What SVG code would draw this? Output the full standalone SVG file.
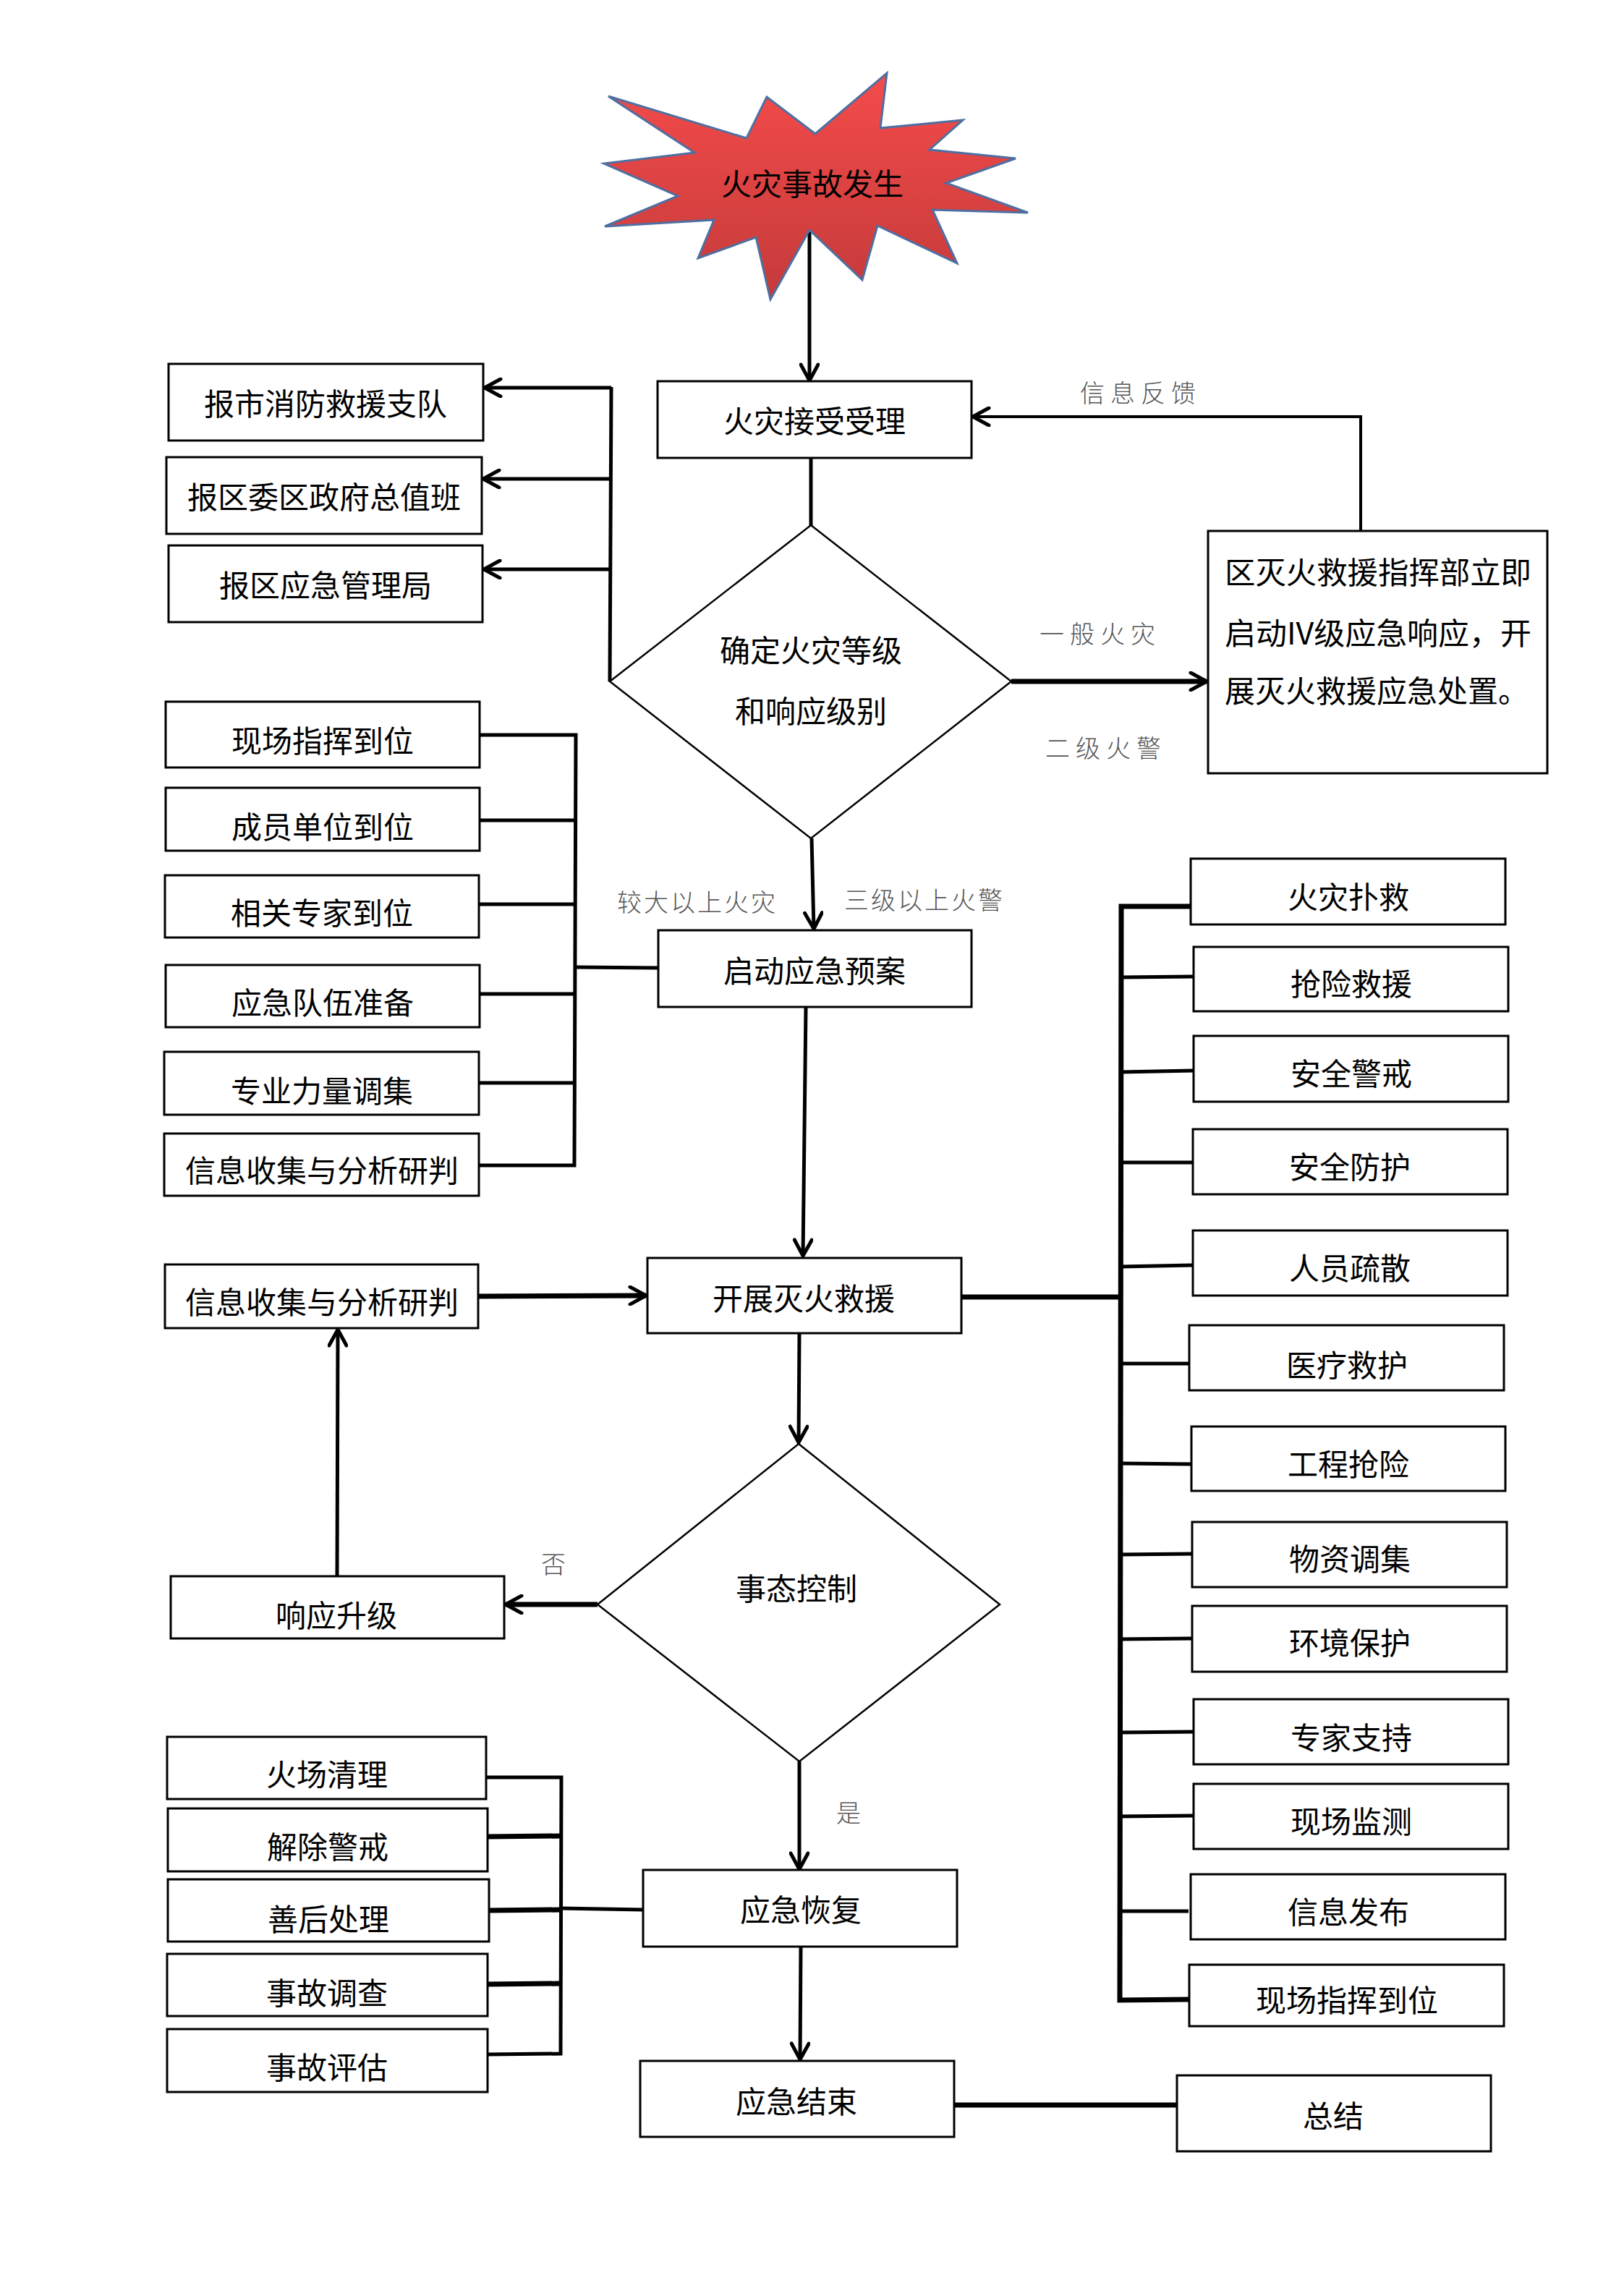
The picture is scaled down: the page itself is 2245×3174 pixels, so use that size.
<svg xmlns="http://www.w3.org/2000/svg" width="2245" height="3174" viewBox="0 0 2245 3174">
<defs>
<linearGradient id="red" x1="0" y1="0" x2="0" y2="1">
<stop offset="0" stop-color="#f54b4b"/>
<stop offset="1" stop-color="#c43a3a"/>
</linearGradient>
<marker id="arr" viewBox="0 0 28 28" refX="25" refY="14" markerWidth="28" markerHeight="28" markerUnits="userSpaceOnUse" orient="auto">
<path d="M3,2 L25,14 L3,26" fill="none" stroke="#000" stroke-width="5" stroke-linecap="round" stroke-linejoin="round"/>
</marker>
<style>
.box{fill:#fff;stroke:#000;stroke-width:3}
.dia{fill:#fff;stroke:#000;stroke-width:2.5}
.t{font-family:"Noto Sans CJK SC","Noto Sans",sans-serif;font-size:42px;fill:#000;text-anchor:middle;dominant-baseline:central}
.tl{font-family:"Noto Sans CJK SC","Noto Sans",sans-serif;font-size:42px;fill:#000;dominant-baseline:central}
.lbl{font-family:"Noto Sans CJK SC","Noto Sans",sans-serif;font-size:34px;font-weight:300;fill:#555;dominant-baseline:central}
.lc{text-anchor:middle}
.c{stroke:#000;stroke-width:5;fill:none}
.thin{stroke-width:4}
.thick{stroke-width:7}
.a{marker-end:url(#arr)}
</style>
</defs>
<rect width="2245" height="3174" fill="#fff"/>

<g id="connectors">
<line class="c a" x1="1119" y1="317" x2="1119" y2="526"/>
<line class="c" x1="1121" y1="633" x2="1121" y2="727"/>
<polyline class="c" points="843,942 845,535"/>
<line class="c a" x1="845" y1="536" x2="670" y2="536"/>
<line class="c a" x1="845" y1="662" x2="668" y2="662"/>
<line class="c a" x1="845" y1="787" x2="669" y2="787"/>
<line class="c thick a" x1="1398" y1="942" x2="1668" y2="942"/>
<polyline class="c thin a" points="1881,734 1881,576 1345,576"/>
<line class="c a" x1="1122" y1="1159" x2="1125" y2="1284"/>
<line class="c" x1="910" y1="1338" x2="794" y2="1337"/>
<polyline class="c" points="663,1016 796,1016 794,1611 663,1611"/>
<line class="c" x1="663" y1="1134" x2="795" y2="1134"/>
<line class="c" x1="662" y1="1250" x2="795" y2="1250"/>
<line class="c" x1="663" y1="1374" x2="794" y2="1374"/>
<line class="c" x1="662" y1="1497" x2="794" y2="1497"/>
<line class="c a" x1="1114" y1="1392" x2="1110" y2="1736"/>
<line class="c thick a" x1="661" y1="1792" x2="893" y2="1791"/>
<line class="c thick" x1="1329" y1="1793" x2="1548" y2="1793"/>
<polyline class="c thick" points="1646,1253 1550,1253 1548,2765 1644,2764"/>
<line class="c" x1="1550" y1="1351" x2="1650" y2="1350"/>
<line class="c" x1="1549" y1="1482" x2="1650" y2="1480"/>
<line class="c" x1="1549" y1="1607" x2="1652" y2="1607"/>
<line class="c" x1="1549" y1="1751" x2="1649" y2="1749"/>
<line class="c" x1="1548" y1="1885" x2="1644" y2="1885"/>
<line class="c" x1="1548" y1="2023" x2="1647" y2="2024"/>
<line class="c" x1="1548" y1="2149" x2="1650" y2="2148"/>
<line class="c" x1="1546" y1="2266" x2="1650" y2="2265"/>
<line class="c" x1="1546" y1="2395" x2="1652" y2="2394"/>
<line class="c" x1="1546" y1="2511" x2="1650" y2="2510"/>
<line class="c" x1="1548" y1="2642" x2="1643" y2="2642"/>
<line class="c a" x1="1105" y1="1843" x2="1104" y2="1994"/>
<line class="c thick a" x1="826" y1="2218" x2="699" y2="2218"/>
<line class="c a" x1="466" y1="2179" x2="467" y2="1838"/>
<line class="c a" x1="1105" y1="2435" x2="1105" y2="2584"/>
<line class="c" x1="889" y1="2640" x2="775" y2="2638"/>
<polyline class="c" points="672,2457 776,2457 775,2839 674,2840"/>
<line class="c thick" x1="674" y1="2539" x2="775" y2="2538"/>
<line class="c thick" x1="676" y1="2641" x2="775" y2="2640"/>
<line class="c thick" x1="674" y1="2743" x2="775" y2="2742"/>
<line class="c a" x1="1107" y1="2691" x2="1106" y2="2847"/>
<line class="c thick" x1="1319" y1="2910" x2="1627" y2="2910"/>
</g>

<g id="labels">
<text class="lbl" x="1493" y="541" letter-spacing="8">信息反馈</text>
<text class="lbl" x="1437" y="874" letter-spacing="8">一般火灾</text>
<text class="lbl" x="1445" y="1032" letter-spacing="8">二级火警</text>
<text class="lbl" x="853" y="1245" letter-spacing="3">较大以上火灾</text>
<text class="lbl" x="1167" y="1242" letter-spacing="3">三级以上火警</text>
<text class="lbl lc" x="765" y="2160">否</text>
<text class="lbl lc" x="1173" y="2504">是</text>
</g>

<g id="n-start">
<polygon points="841,133 1032,191 1060,134 1127,185 1226,101 1217,177 1331,166 1285,207 1404,219 1308,253 1421,294 1289,290 1323,364 1213,312 1192,387 1119,318 1065,414 1045,328 965,357 987,304 836,313 937,271 835,226 960,211" fill="url(#red)" stroke="#4f6fa0" stroke-width="3" stroke-linejoin="miter"/>
<text class="t" x="1123" y="251">火灾事故发生</text>
</g>

<g id="n-accept"><rect class="box" x="909" y="527" width="434" height="106"/><text class="t" x="1126" y="579">火灾接受受理</text></g>

<g id="n-report1"><rect class="box" x="233" y="503" width="435" height="106"/><text class="t" x="450" y="555">报市消防救援支队</text></g>
<g id="n-report2"><rect class="box" x="230" y="632" width="436" height="106"/><text class="t" x="448" y="684">报区委区政府总值班</text></g>
<g id="n-report3"><rect class="box" x="233" y="754" width="434" height="106"/><text class="t" x="450" y="806">报区应急管理局</text></g>

<g id="n-level">
<polygon class="dia" points="1121,726 1398,942 1121,1159 843,942"/>
<text class="t" x="1121" y="896">确定火灾等级</text>
<text class="t" x="1121" y="980">和响应级别</text>
</g>

<g id="n-district">
<rect class="box" x="1670" y="734" width="469" height="335"/>
<text class="tl" x="1693" y="788" textLength="424" lengthAdjust="spacingAndGlyphs">区灭火救援指挥部立即</text>
<text class="tl" x="1693" y="872" textLength="424" lengthAdjust="spacingAndGlyphs">启动IV级应急响应，开</text>
<text class="tl" x="1693" y="952">展灭火救援应急处置。</text>
</g>

<g id="n-plan"><rect class="box" x="910" y="1286" width="433" height="106"/><text class="t" x="1126" y="1339">启动应急预案</text></g>

<g id="n-l1"><rect class="box" x="229" y="970" width="434" height="91"/><text class="t" x="446" y="1021">现场指挥到位</text></g>
<g id="n-l2"><rect class="box" x="229" y="1089" width="434" height="87"/><text class="t" x="446" y="1140">成员单位到位</text></g>
<g id="n-l3"><rect class="box" x="228" y="1210" width="434" height="86"/><text class="t" x="445" y="1259">相关专家到位</text></g>
<g id="n-l4"><rect class="box" x="229" y="1334" width="434" height="86"/><text class="t" x="446" y="1383">应急队伍准备</text></g>
<g id="n-l5"><rect class="box" x="227" y="1454" width="435" height="87"/><text class="t" x="445" y="1505">专业力量调集</text></g>
<g id="n-l6"><rect class="box" x="227" y="1567" width="435" height="86"/><text class="t" x="445" y="1615">信息收集与分析研判</text></g>

<g id="n-info"><rect class="box" x="228" y="1748" width="433" height="88"/><text class="t" x="445" y="1797">信息收集与分析研判</text></g>
<g id="n-rescue"><rect class="box" x="895" y="1739" width="434" height="104"/><text class="t" x="1111" y="1792">开展灭火救援</text></g>

<g id="n-r1"><rect class="box" x="1646" y="1187" width="435" height="91"/><text class="t" x="1864" y="1237">火灾扑救</text></g>
<g id="n-r2"><rect class="box" x="1650" y="1309" width="435" height="89"/><text class="t" x="1868" y="1357">抢险救援</text></g>
<g id="n-r3"><rect class="box" x="1650" y="1432" width="435" height="91"/><text class="t" x="1868" y="1481">安全警戒</text></g>
<g id="n-r4"><rect class="box" x="1649" y="1561" width="435" height="90"/><text class="t" x="1866" y="1610">安全防护</text></g>
<g id="n-r5"><rect class="box" x="1649" y="1701" width="435" height="90"/><text class="t" x="1866" y="1750">人员疏散</text></g>
<g id="n-r6"><rect class="box" x="1644" y="1832" width="435" height="90"/><text class="t" x="1862" y="1884">医疗救护</text></g>
<g id="n-r7"><rect class="box" x="1647" y="1972" width="434" height="89"/><text class="t" x="1864" y="2021">工程抢险</text></g>
<g id="n-r8"><rect class="box" x="1648" y="2104" width="435" height="90"/><text class="t" x="1866" y="2152">物资调集</text></g>
<g id="n-r9"><rect class="box" x="1648" y="2220" width="435" height="91"/><text class="t" x="1866" y="2268">环境保护</text></g>
<g id="n-r10"><rect class="box" x="1650" y="2349" width="435" height="90"/><text class="t" x="1868" y="2399">专家支持</text></g>
<g id="n-r11"><rect class="box" x="1650" y="2466" width="435" height="90"/><text class="t" x="1868" y="2515">现场监测</text></g>
<g id="n-r12"><rect class="box" x="1646" y="2591" width="435" height="90"/><text class="t" x="1864" y="2640">信息发布</text></g>
<g id="n-r13"><rect class="box" x="1644" y="2716" width="435" height="85"/><text class="t" x="1862" y="2762">现场指挥到位</text></g>

<g id="n-control">
<polygon class="dia" points="1104,1996 1382,2218 1105,2435 826,2218"/>
<text class="t" x="1101" y="2193">事态控制</text>
</g>
<g id="n-upgrade"><rect class="box" x="236" y="2179" width="461" height="86"/><text class="t" x="465" y="2230">响应升级</text></g>

<g id="n-recover"><rect class="box" x="889" y="2585" width="434" height="106"/><text class="t" x="1107" y="2637">应急恢复</text></g>
<g id="n-b1"><rect class="box" x="231" y="2401" width="441" height="86"/><text class="t" x="452" y="2450">火场清理</text></g>
<g id="n-b2"><rect class="box" x="232" y="2500" width="442" height="87"/><text class="t" x="453" y="2550">解除警戒</text></g>
<g id="n-b3"><rect class="box" x="232" y="2598" width="444" height="86"/><text class="t" x="454" y="2650">善后处理</text></g>
<g id="n-b4"><rect class="box" x="231" y="2701" width="443" height="86"/><text class="t" x="452" y="2752">事故调查</text></g>
<g id="n-b5"><rect class="box" x="231" y="2805" width="443" height="87"/><text class="t" x="452" y="2855">事故评估</text></g>

<g id="n-end"><rect class="box" x="885" y="2849" width="434" height="105"/><text class="t" x="1101" y="2902">应急结束</text></g>
<g id="n-summary"><rect class="box" x="1627" y="2869" width="434" height="105"/><text class="t" x="1843" y="2922">总结</text></g>
</svg>
